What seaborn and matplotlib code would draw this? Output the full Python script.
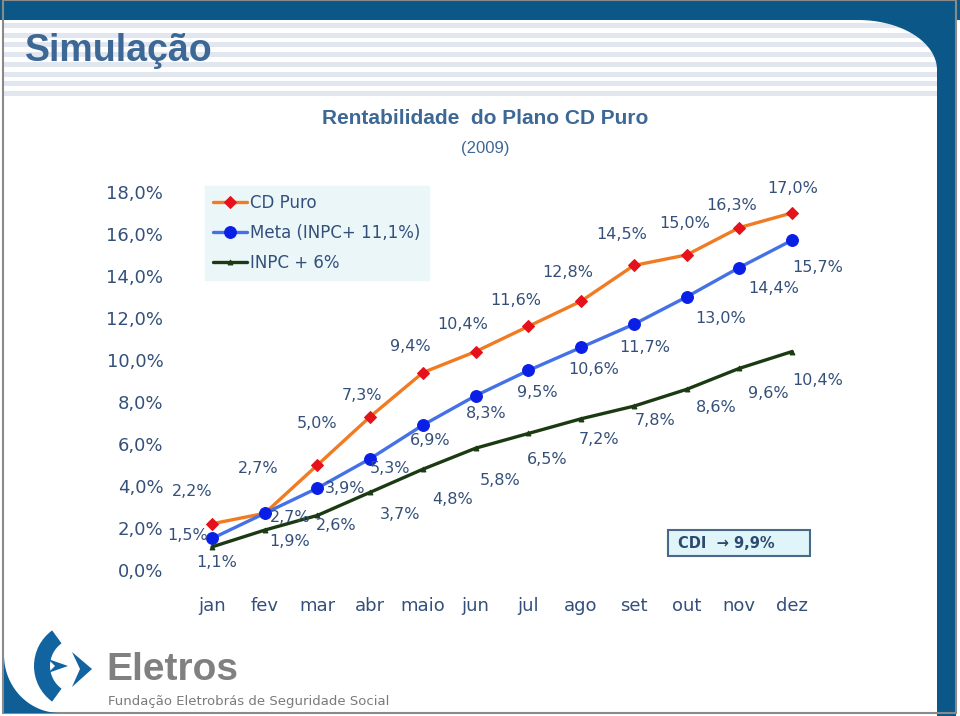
import numpy as np
import pandas as pd
import matplotlib.pyplot as plt
import seaborn as sns
from matplotlib.patches import Rectangle, Polygon, Wedge
from matplotlib.ticker import FuncFormatter

# data
months = ['jan', 'fev', 'mar', 'abr', 'maio', 'jun', 'jul', 'ago', 'set', 'out', 'nov', 'dez']
cd_puro = [2.2, 2.7, 5.0, 7.3, 9.4, 10.4, 11.6, 12.8, 14.5, 15.0, 16.3, 17.0]
meta = [1.5, 2.7, 3.9, 5.3, 6.9, 8.3, 9.5, 10.6, 11.7, 13.0, 14.4, 15.7]
inpc = [1.1, 1.9, 2.6, 3.7, 4.8, 5.8, 6.5, 7.2, 7.8, 8.6, 9.6, 10.4]
series_names = ['CD Puro', 'Meta (INPC+ 11,1%)', 'INPC + 6%']
y_ticks = [0, 2, 4, 6, 8, 10, 12, 14, 16, 18]
cdi_text = 'CDI  \u2192 9,9%'

# label offsets (pixels, right / up) for the value labels
off_cd = [(-20, 32), (-7, 45), (0, 41), (-8, 21), (-13, 26), (-13, 27),
          (-13, 26), (-13, 29), (-12, 31), (-2, 31), (-8, 22), (1, 24)]
off_meta = [(-24, 3), (25, -4), (28, 0), (20, -10), (7, -15), (11, -18),
            (9, -22), (13, -22), (11, -23), (34, -22), (34, -21), (26, -27)]
off_inpc = [(5, -16), (25, -11), (19, -10), (30, -22), (30, -30), (24, -32),
            (19, -26), (18, -21), (21, -14), (30, -18), (29, -25), (26, -29)]

df = pd.DataFrame({
    'idx': list(range(12)) * 3,
    'valor': cd_puro + meta + inpc,
    'serie': [series_names[0]] * 12 + [series_names[1]] * 12 + [series_names[2]] * 12,
})

sns.set_theme(style='white')
plt.rcParams['font.family'] = ['DejaVu Sans']

txt = '#34507a'
title_blue = '#3d6896'
dark_blue = '#0b5888'

fig = plt.figure(figsize=(9.6, 7.16), dpi=100)

# background layer in pixel coords
bg = fig.add_axes([0, 0, 1, 1], zorder=0)
bg.set_xlim(0, 960)
bg.set_ylim(716, 0)
bg.axis('off')

for k in range(8):
    bg.add_patch(Rectangle((4, 23 + k * 9.7), 935, 5, color='#e2e7ef', lw=0))
bg.add_patch(Rectangle((0, 0), 960, 20, color=dark_blue, lw=0))
bg.add_patch(Rectangle((937, 0), 19, 716, color=dark_blue, lw=0))
t = np.linspace(np.pi / 2, 0, 40)
arc = np.column_stack([858 + 79 * np.cos(t), 70 - 50 * np.sin(t)])
corner = np.vstack([[[937, 20], [858, 20]], arc, [[937, 70]]])
bg.add_patch(Polygon(corner, closed=True, color=dark_blue, lw=0))
bg.add_patch(Rectangle((3, 0), 953, 713, fill=False, ec='#8a8a8a', lw=1.5))

# logo
t = np.linspace(np.pi, np.pi / 2, 40)
sw = np.column_stack([60 + 56 * np.cos(t), 655 + 58 * np.sin(t)])
bg.add_patch(Polygon(np.vstack([sw, [[4, 713]]]), closed=True, color='#0f5e96', lw=0))
bg.add_patch(Wedge((78, 666), 44, 126, 234, width=16, color='#1264a0', lw=0))
bg.add_patch(Polygon([(48, 659), (68, 666), (48, 673), (55, 666)], closed=True, color='#1264a0', lw=0))
bg.add_patch(Polygon([(72, 652), (92, 669), (72, 687), (80, 669)], closed=True, color='#1264a0', lw=0))
bg.text(106, 670, 'Eletros', fontsize=28, color='#808080', fontweight='bold',
        family='Liberation Sans', va='center', ha='left')
bg.text(108, 701, 'Fundação Eletrobrás de Seguridade Social', fontsize=9.5,
        color='#7a7a7a', family='DejaVu Sans', va='center', ha='left')

# titles
bg.text(25, 51, 'Simulação', fontsize=27, color=title_blue, fontweight='bold',
        family='Liberation Sans', va='center', ha='left')
bg.text(485, 119, 'Rentabilidade  do Plano CD Puro', fontsize=15, color=title_blue,
        fontweight='bold', family='Liberation Sans', va='center', ha='center')
bg.text(485, 148, '(2009)', fontsize=12, color=title_blue, family='Liberation Sans',
        va='center', ha='center')

# chart
ax = fig.add_axes([180 / 960, 1 - 580 / 716, 650 / 960, 395 / 716], zorder=2)
ax.set_facecolor('none')

styles = [
    dict(color='#f07b22', marker='D', markersize=6, markerfacecolor='#e5121b', markeredgecolor='#e5121b'),
    dict(color='#4571e6', marker='o', markersize=8.5, markerfacecolor='#0a1fe6', markeredgecolor='#0a1fe6'),
    dict(color='#1b3a12', marker='^', markersize=3.5, markerfacecolor='#1b3a12', markeredgecolor='#1b3a12'),
]
offsets = [off_cd, off_meta, off_inpc]
for name, st, offs in zip(series_names, styles, offsets):
    sub = df[df['serie'] == name]
    sns.lineplot(data=sub, x='idx', y='valor', ax=ax, lw=2.4, label=name, **st)
    for (xi, yi), (dx, dy) in zip(zip(sub['idx'], sub['valor']), offs):
        ax.annotate(f'{yi:.1f}%'.replace('.', ','), (xi, yi), xytext=(dx, dy),
                    textcoords='offset pixels', ha='center', va='center',
                    fontsize=11.5, color=txt)

ax.set_xlim(-0.607, 11.72)
ax.set_ylim(-0.476, 18.33)
ax.set_xticks(range(12))
ax.set_xticklabels(months)
ax.set_yticks(y_ticks)
ax.yaxis.set_major_formatter(FuncFormatter(lambda v, p: f'{v:.1f}%'.replace('.', ',')))
ax.tick_params(axis='both', length=0, labelsize=13, labelcolor=txt)
ax.tick_params(axis='x', pad=12)
ax.tick_params(axis='y', pad=12)
ax.set_xlabel('')
ax.set_ylabel('')
for s in ax.spines.values():
    s.set_visible(False)

ax.legend(loc='upper left', bbox_to_anchor=(205 / 960, 1 - 186 / 716),
          bbox_transform=fig.transFigure, fontsize=12, labelcolor=txt,
          facecolor='#eaf6f8', edgecolor='#eaf6f8', framealpha=1, fancybox=False,
          handlelength=2.0, handletextpad=0.2, labelspacing=0.7,
          borderpad=0.5, borderaxespad=0)

# CDI box
bg.add_patch(Rectangle((668, 530), 142, 26, facecolor='#dff5fa', edgecolor='#4a6888', lw=1.5, zorder=3))
bg.text(678, 543, cdi_text, fontsize=10.5, fontweight='bold', color='#2c4a70',
        va='center', ha='left', zorder=4)

fig.savefig('out.png', dpi=100)
